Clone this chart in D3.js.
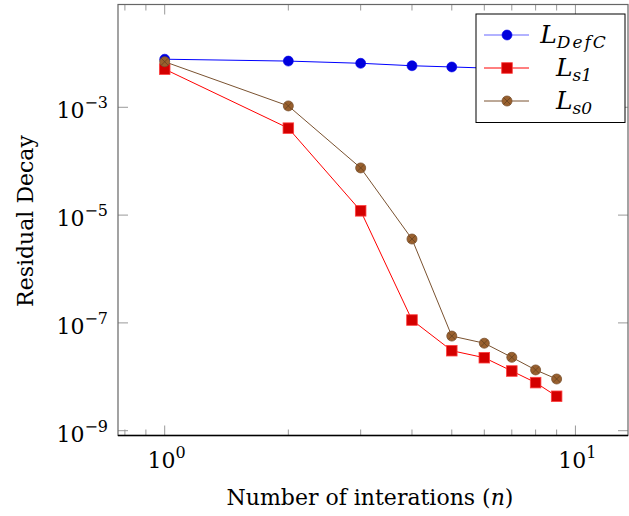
<!DOCTYPE html>
<html>
<head>
<meta charset="utf-8">
<script src="https://d3js.org/d3.v7.min.js"></script>
<style>
  body { margin: 0; background: #fff; }
  text { font-family: "DejaVu Serif", serif; fill: #000; }
</style>
</head>
<body>
<div id="chart"></div>
<script>
// iterations
var iters = [1, 2, 3, 4, 5, 6, 7, 8, 9];
// residuals
var defC = [7.8e-3, 7.2e-3, 6.55e-3, 5.9e-3, 5.6e-3, 5.35e-3, 5.1e-3, 4.9e-3, 4.7e-3];
var s1   = [5.1e-3, 4.1e-4, 1.2e-5, 1.13e-7, 3.05e-8, 2.26e-8, 1.28e-8, 7.8e-9, 4.35e-9];
var s0   = [7.0e-3, 1.06e-3, 7.5e-5, 3.6e-6, 5.7e-8, 4.2e-8, 2.3e-8, 1.34e-8, 9.1e-9];
var yTicks = [1e-3, 1e-5, 1e-7, 1e-9];
var xTicks = [1, 10];
var xMinor = [0.8, 0.9, 2, 3, 4, 5, 6, 7, 8, 9];

var W = 629, H = 516;
var margin = {top: 4.5, right: 1, bottom: 80.5, left: 118};
var width = W - margin.left - margin.right;
var height = H - margin.top - margin.bottom;

var x = d3.scaleLog().domain([Math.pow(10, -0.1137), Math.pow(10, 1.128)]).range([0, width]);
var y = d3.scaleLog().domain([Math.pow(10, -9.089), Math.pow(10, -1.093)]).range([height, 0]);

var svg = d3.select("#chart").append("svg")
  .attr("width", W).attr("height", H)
  .append("g")
  .attr("transform", "translate(" + margin.left + "," + margin.top + ")");

var tickCol = "#999";

// ticks (inward, on all four sides)
function xTickMarks(vals, len) {
  vals.forEach(function(v) {
    svg.append("line").attr("x1", x(v)).attr("x2", x(v)).attr("y1", height).attr("y2", height - len)
      .attr("stroke", tickCol).attr("stroke-width", 1);
    svg.append("line").attr("x1", x(v)).attr("x2", x(v)).attr("y1", 0).attr("y2", len)
      .attr("stroke", tickCol).attr("stroke-width", 1);
  });
}
xTickMarks(xMinor, 6);
xTickMarks(xTicks, 10);
yTicks.forEach(function(v) {
  svg.append("line").attr("x1", 0).attr("x2", 10).attr("y1", y(v)).attr("y2", y(v))
    .attr("stroke", tickCol).attr("stroke-width", 1);
  svg.append("line").attr("x1", width).attr("x2", width - 10).attr("y1", y(v)).attr("y2", y(v))
    .attr("stroke", tickCol).attr("stroke-width", 1);
});

// frame
svg.append("rect").attr("x", 0).attr("y", 0).attr("width", width).attr("height", height)
  .attr("fill", "none").attr("stroke", "#666").attr("stroke-width", 1.2);
svg.append("line").attr("x1", 0).attr("x2", width).attr("y1", height).attr("y2", height)
  .attr("stroke", "#000").attr("stroke-width", 1.3);

// tick labels
xTicks.forEach(function(v) {
  var t = svg.append("text").attr("x", x(v) + 2).attr("y", height + 32)
    .attr("text-anchor", "middle").style("font-size", "22px");
  t.append("tspan").text("10");
  t.append("tspan").attr("dy", -10).style("font-size", "16px").text(Math.round(Math.log10(v)));
});
yTicks.forEach(function(v) {
  var t = svg.append("text").attr("x", -10).attr("y", y(v) + 11)
    .attr("text-anchor", "end").style("font-size", "22px");
  t.append("tspan").text("10");
  t.append("tspan").attr("dy", -10).style("font-size", "16px").text("\u2212" + Math.round(-Math.log10(v)));
});

// axis titles
svg.append("text").attr("x", width / 2 - 3).attr("y", height + 69)
  .attr("text-anchor", "middle").style("font-size", "22px")
  .html("Number of interations (<tspan font-style='italic'>n</tspan>)");
svg.append("text").attr("transform", "translate(" + (-85) + "," + (221 - margin.top) + ") rotate(-90)")
  .attr("text-anchor", "middle").style("font-size", "22px")
  .text("Residual Decay");

// series
var series = [
  {name: "DefC", vals: defC, line: "#0000ff", fill: "#0000dd", stroke: "#0000ee", shape: "circle"},
  {name: "s1", vals: s1, line: "#ff0000", fill: "#d40000", stroke: "#ff4040", shape: "square"},
  {name: "s0", vals: s0, line: "#7a5230", fill: "#99602e", stroke: "#7a5230", shape: "otimes"}
];

var line = d3.line().x(function(d) { return x(d[0]); }).y(function(d) { return y(d[1]); });

function drawMarker(g, cx, cy, s) {
  if (s.shape == "circle") {
    g.append("circle").attr("cx", cx).attr("cy", cy).attr("r", 5)
      .attr("fill", s.fill).attr("stroke", s.stroke).attr("stroke-width", 0.6);
  } else if (s.shape == "square") {
    g.append("rect").attr("x", cx - 5.3).attr("y", cy - 5.3).attr("width", 10.6).attr("height", 10.6)
      .attr("fill", s.fill).attr("stroke", s.stroke).attr("stroke-width", 0.8);
  } else {
    g.append("circle").attr("cx", cx).attr("cy", cy).attr("r", 5)
      .attr("fill", s.fill).attr("stroke", s.stroke).attr("stroke-width", 0.8);
    var d = 3.5;
    g.append("path").attr("d", "M" + (cx - d) + "," + (cy - d) + "L" + (cx + d) + "," + (cy + d) +
      "M" + (cx - d) + "," + (cy + d) + "L" + (cx + d) + "," + (cy - d))
      .attr("stroke", "#5e3d1e").attr("stroke-width", 0.7);
  }
}

series.forEach(function(s) {
  var pts = iters.map(function(n, i) { return [n, s.vals[i]]; });
  svg.append("path").attr("d", line(pts)).attr("fill", "none")
    .attr("stroke", s.line).attr("stroke-width", 1);
  var g = svg.append("g");
  pts.forEach(function(p) { drawMarker(g, x(p[0]), y(p[1]), s); });
});

// legend
var lg = svg.append("g").attr("transform", "translate(" + (476 - margin.left) + "," + (14 - margin.top) + ")");
lg.append("rect").attr("x", 0).attr("y", 0).attr("width", 149).attr("height", 108.5)
  .attr("fill", "#fff").attr("stroke", "#000").attr("stroke-width", 1);
var subs = ["DefC", "s1", "s0"];
series.forEach(function(s, i) {
  var cy = 21 + i * 33;
  lg.append("line").attr("x1", 8).attr("x2", 53).attr("y1", cy).attr("y2", cy)
    .attr("stroke", s.line).attr("stroke-width", 1).attr("opacity", i == 0 ? 0.6 : 1);
  drawMarker(lg, 31, cy, s);
  var t = lg.append("text").attr("x", 98).attr("y", cy + 8)
    .attr("text-anchor", "middle").style("font-size", "25px").style("font-style", "italic");
  t.append("tspan").text("L");
  t.append("tspan").attr("dy", 5).style("font-size", "17px")
    .attr("letter-spacing", i == 0 ? "2px" : "0px").text(subs[i]);
});
</script>
</body>
</html>
